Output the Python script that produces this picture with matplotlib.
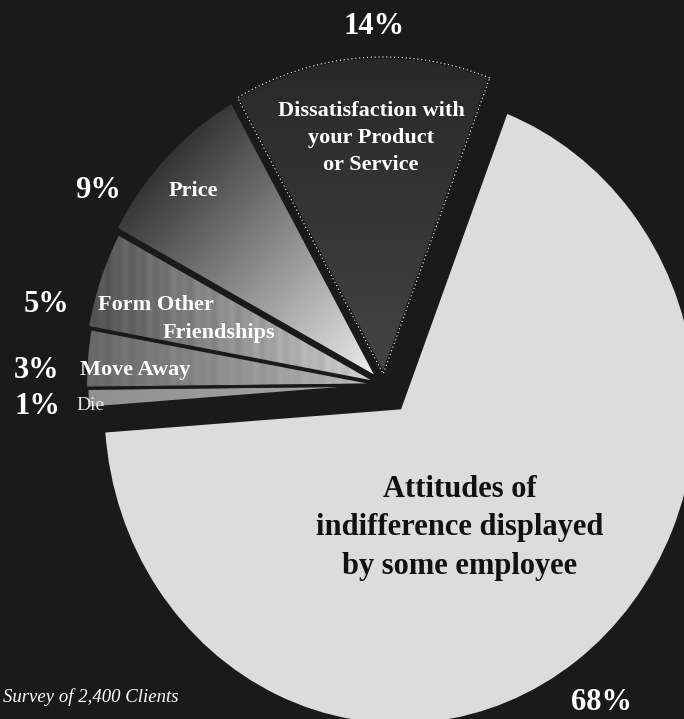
import matplotlib.pyplot as plt
import numpy as np
from matplotlib.colors import LinearSegmentedColormap
from matplotlib.patches import PathPatch

# why customers leave (share of 2,400 clients)
reasons = ['Dissatisfaction with\nyour Product\nor Service', 'Price', 'Form Other\nFriendships',
           'Move Away', 'Die', 'Attitudes of\nindifference displayed\nby some employee']
shares = [14, 9, 5, 3, 1, 68]
pct_text = ['14%', '9%', '5%', '3%', '1%', '68%']
source = 'Survey of 2,400 Clients'

BG = '#1a1a1a'
W, H = 684, 719

plt.rcParams['font.family'] = ['Liberation Serif', 'DejaVu Serif']

fig = plt.figure(figsize=(W / 100, H / 100), dpi=100, facecolor=BG)
ax = fig.add_axes([0, 0, 1, 1])

explode = [0.035, 0.03, 0.015, 0.005, 0.0, 0.09]
flat = ['#2f2f2f', '#777777', '#888888', '#8a8a8a', '#969696', '#dcdcdc']
wedges, _ = ax.pie(shares, startangle=69, explode=explode, colors=flat,
                   wedgeprops=dict(edgecolor=BG, linewidth=2.2))

# the original is slightly stretched vertically and cropped
ax.set_aspect('auto')
ax.set_xlim(-384 / 297, (W - 384) / 297)
ax.set_ylim(-(H - 385) / 317, 385 / 317)
ax.axis('off')

xs = np.linspace(-1.32, 1.05, 700)
ys = np.linspace(-1.08, 1.26, 700)
X, Y = np.meshgrid(xs, ys)


def shade(w, c0, c1, ang, streak=0.0):
    a = np.radians(ang)
    d = np.cos(a) * X + np.sin(a) * Y
    v = w.get_path().vertices
    dv = np.cos(a) * v[:, 0] + np.sin(a) * v[:, 1]
    t = (d - dv.min()) / (dv.max() - dv.min())
    if streak:
        t = t + streak * (np.sin(X * 157) + 0.7 * np.sin(X * 71 + 1.3))
    t = np.clip(t, 0, 1)
    cm = LinearSegmentedColormap.from_list('g', [c0, c1])
    im = ax.imshow(t, extent=[xs[0], xs[-1], ys[0], ys[-1]], origin='lower',
                   cmap=cm, vmin=0, vmax=1, aspect='auto', zorder=0.5)
    im.set_clip_path(w)
    w.set_facecolor('none')


shade(wedges[0], '#282828', '#444444', -90)
shade(wedges[1], '#333333', '#f0f0f0', -45)
shade(wedges[2], '#505050', '#d4d4d4', 0, streak=0.035)
shade(wedges[3], '#666666', '#bdbdbd', 0, streak=0.035)
shade(wedges[4], '#909090', '#a8a8a8', 0)

# dotted white rim on the top slice
ax.add_patch(PathPatch(wedges[0].get_path(), facecolor='none', edgecolor='white',
                       linestyle=(0, (1, 2.5)), linewidth=0.8, zorder=2))


def put(px, py, s, **kw):
    fig.text(px / W, 1 - py / H, s, **kw)


pct_xy = [(374, 27), (98, 190), (47, 305), (37, 370), (37, 407), (601, 702)]
for (px, py), s in zip(pct_xy, pct_text):
    put(px, py, s, ha='center', va='center', color='white', fontsize=22, fontweight='bold')

put(371, 138, reasons[0], ha='center', va='center', color='white', fontsize=16,
    fontweight='bold', linespacing=1.45)
put(193, 191, reasons[1], ha='center', va='center', color='white', fontsize=16, fontweight='bold')
first, second = reasons[2].split('\n')
put(98, 305, first, ha='left', va='center', color='white', fontsize=16, fontweight='bold')
put(163, 333, second, ha='left', va='center', color='white', fontsize=16, fontweight='bold')
put(80, 370, reasons[3], ha='left', va='center', color='white', fontsize=16, fontweight='bold')
put(76, 405, reasons[4], ha='left', va='center', color='#e6e6e6', fontsize=14)
put(460, 528, reasons[5], ha='center', va='center', color='#111111', fontsize=22,
    fontweight='bold', linespacing=1.45)

put(3, 697, source, ha='left', va='center', color='white', fontsize=13.5, style='italic')

fig.savefig('out.png', dpi=100, facecolor=BG)
